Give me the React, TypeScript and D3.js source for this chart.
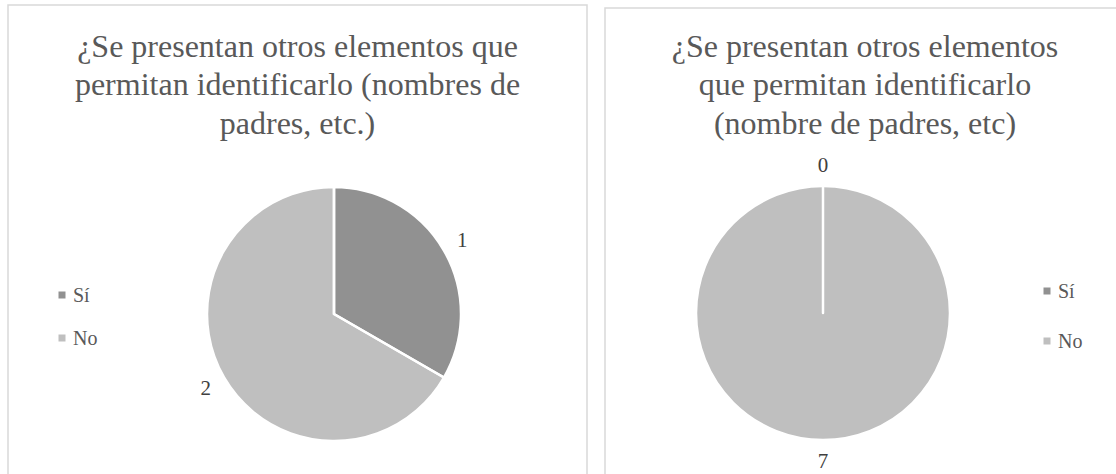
import React from "react";
import * as d3 from "d3";

const categories = ["Sí", "No"];
const leftValues = [1, 2];
const rightValues = [0, 7];
const leftTitle = ["¿Se presentan otros elementos que", "permitan identificarlo (nombres de", "padres, etc.)"];
const rightTitle = ["¿Se presentan otros elementos", "que permitan identificarlo", "(nombre de padres, etc)"];
const colors = ["#919191", "#bfbfbf"];

const W = 1116;
const H = 474;
const FONT = "Liberation Serif, Tinos, Times New Roman, DejaVu Serif, serif";

type PanelProps = {
  x: number; y: number; w: number; h: number;
  title: string[]; titleX: number; titleY: number;
  values: number[];
  cx: number; cy: number; r: number;
  legendX: number; legendY: number; legendGap: number;
};

function Panel(p: PanelProps) {
  const pie = d3.pie<number>().sort(null).value((d) => d)(p.values);
  const arc = d3.arc<d3.PieArcDatum<number>>().innerRadius(0).outerRadius(p.r);
  const labelArc = d3.arc<d3.PieArcDatum<number>>().innerRadius(p.r + 21).outerRadius(p.r + 21);
  return (
    <g style={{ fontFamily: FONT }}>
      <rect x={p.x} y={p.y} width={p.w} height={p.h} fill="#fff" stroke="#d9d9d9" strokeWidth={1.5} />
      <text style={{ fontFamily: FONT }} fontSize={32} fill="#595959" textAnchor="middle">
        {p.title.map((t, i) => (
          <tspan key={i} x={p.titleX} y={p.titleY + i * 38.4}>{t}</tspan>
        ))}
      </text>
      <g transform={`translate(${p.cx},${p.cy})`}>
        {pie.map((d, i) => (
          <path key={"f" + i} d={arc(d) || ""} fill={colors[i]} />
        ))}
        {pie.map((d, i) => (
          <path key={"s" + i} d={arc(d) || ""} fill="none" stroke="#fff" strokeWidth={2.5} strokeLinejoin="round" />
        ))}
        {pie.map((d, i) => {
          const [lx, ly] = labelArc.centroid(d);
          return (
            <text key={"l" + i} x={lx} y={ly} dy="0.35em" textAnchor="middle" style={{ fontFamily: FONT }} fontSize={21} fill="#404040">
              {p.values[i]}
            </text>
          );
        })}
      </g>
      {categories.map((c, i) => (
        <g key={c} transform={`translate(${p.legendX},${p.legendY + i * p.legendGap})`}>
          <rect x={-3.5} y={-3.5} width={7} height={7} fill={colors[i]} />
          <text x={11} y={0} dy="0.33em" style={{ fontFamily: FONT }} fontSize={20} fill="#595959">{c}</text>
        </g>
      ))}
    </g>
  );
}

export default function App() {
  return (
    <div style={{ position: "absolute", left: 0, top: 0, width: W, height: H, background: "#fff" }}>
      <svg width={W} height={H} style={{ display: "block" }}>
        <rect x={0} y={0} width={W} height={H} fill="#fff" />
        <Panel x={8} y={5} w={579} h={520} title={leftTitle} titleX={297.5} titleY={57}
          values={leftValues} cx={334} cy={314} r={127}
          legendX={62} legendY={295} legendGap={43} />
        <Panel x={605} y={8} w={520} h={520} title={rightTitle} titleX={865} titleY={57}
          values={rightValues} cx={823} cy={313} r={127}
          legendX={1047} legendY={291} legendGap={50} />
      </svg>
    </div>
  );
}
